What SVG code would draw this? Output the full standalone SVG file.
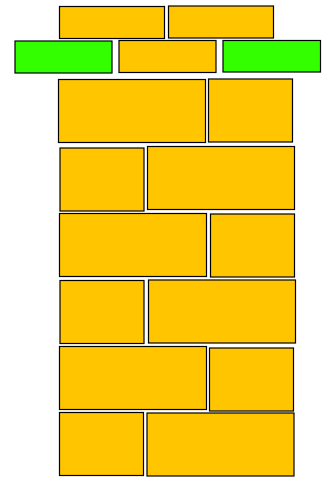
<svg xmlns="http://www.w3.org/2000/svg" width="328" height="477" viewBox="0 0 328 477">
<style>
rect.y{fill:#FFC600;stroke:#000;stroke-width:1.2}
rect.g{fill:#33FF00;stroke:#000;stroke-width:1.2}
</style>
<rect width="328" height="477" fill="#fff"/>
<g id="n1"><rect class="y" x="59.5" y="6.5" width="105" height="32"/></g>
<g id="n2"><rect class="y" x="168.5" y="6" width="105" height="32"/></g>
<g id="n3"><rect class="g" x="15" y="41" width="97" height="32"/></g>
<g id="n4"><rect class="y" x="119" y="40.5" width="97" height="32"/></g>
<g id="n5"><rect class="g" x="223" y="40.5" width="97.5" height="31.5"/></g>
<g id="n6"><rect class="y" x="58.5" y="79.5" width="147" height="63"/></g>
<g id="n7"><rect class="y" x="208.5" y="79" width="84" height="63"/></g>
<g id="n8"><rect class="y" x="60" y="148" width="84" height="63"/></g>
<g id="n9"><rect class="y" x="147.5" y="146.5" width="147" height="63"/></g>
<g id="n10"><rect class="y" x="59.5" y="213.5" width="147" height="63"/></g>
<g id="n11"><rect class="y" x="210.5" y="214" width="84" height="63"/></g>
<g id="n12"><rect class="y" x="60" y="280.5" width="84" height="63"/></g>
<g id="n13"><rect class="y" x="148.5" y="280" width="147" height="63"/></g>
<g id="n14"><rect class="y" x="59.5" y="346.5" width="147" height="63"/></g>
<g id="n15"><rect class="y" x="209.5" y="348" width="84" height="63"/></g>
<g id="n16"><rect class="y" x="59.5" y="412.5" width="84" height="63"/></g>
<g id="n17"><rect class="y" x="147" y="413" width="147" height="63"/></g>
<g id="connectors"></g>
</svg>
